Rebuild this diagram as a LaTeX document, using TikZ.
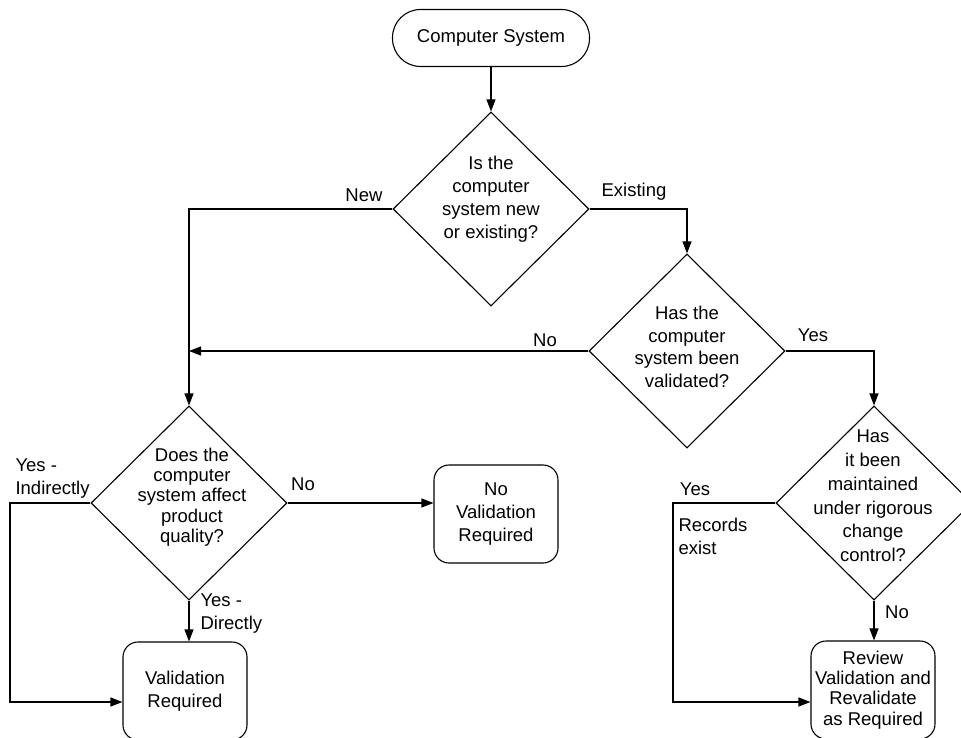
\documentclass[tikz,border=0pt]{standalone}
\usepackage{fontspec}
\setmainfont{Liberation Sans}
\usetikzlibrary{shapes.geometric,arrows.meta,calc}

\begin{document}
\begin{tikzpicture}[x=1pt,y=-1pt,
  line width=1.1pt,
  font=\fontsize{18.5}{23}\selectfont,
  dec/.style={diamond,draw,minimum width=196pt,minimum height=194pt,inner sep=0pt},
  qtext/.style={align=center,inner sep=0pt},
  term/.style={draw,rectangle,rounded corners=28pt,minimum width=197pt,minimum height=57pt},
  outbox/.style={draw,rectangle,rounded corners=15pt,align=center,minimum width=124pt,minimum height=98pt,inner sep=2pt},
  arr/.style={-{Triangle[length=12pt,width=9pt]}},
  lbl/.style={inner sep=0pt,align=left}
]
\useasboundingbox (0,0) rectangle (961,738);
\clip (0,0) rectangle (961,738);

% start
\node[term] (start) at (491,38) {Computer System};

% decisions
\node[dec] (d1) at (491,209) {};
\node[qtext] (t1) at (491,199) {Is the\\computer\\system new\\or existing?};

\node[dec] (d2) at (687,351) {};
\node[qtext,font=\fontsize{18.5}{22.7}\selectfont] (t2) at (687,347) {Has the\\computer\\system been\\validated?};

\node[dec] (d3) at (189,503) {};
\node[qtext,font=\fontsize{18.5}{20.3}\selectfont] (t3) at (192,497) {Does the\\computer\\system affect\\product\\quality?};

\node[dec] (d4) at (874,503) {};
\node[qtext,font=\fontsize{18.5}{23.8}\selectfont] (t4) at (873,496) {Has\\it been\\maintained\\under rigorous\\change\\control?};

% outcomes
\node[outbox] (nv) at (496,514) {No\\Validation\\Required};
\node[outbox] (vr) at (185,691) {Validation\\Required};
\node[outbox,font=\fontsize{18.5}{20.4}\selectfont] (rv) at (873,690) {Review\\Validation and\\Revalidate\\as Required};

% helper points for the side branches
\coordinate (c1) at (10,503);
\coordinate (c2) at (673,503);
\coordinate (vrin) at ($(vr.west)+(0,11)$);
\coordinate (rvin) at ($(rv.west)+(0,12)$);

% connectors
\draw[arr] (start.south) -- (d1.north);
\draw[arr] (d1.west) -| (d3.north);
\draw[arr] (d1.east) -| (d2.north);
\draw[arr] (d2.west) -- (d2.west -| d3.north);
\draw[arr] (d2.east) -| (d4.north);
\draw[arr] (d3.east) -- (d3.east -| nv.west);
\draw[arr] (d3.south) -- (d3.south |- vr.north);
\draw[arr] (d3.west) -- (c1) |- (vrin);
\draw[arr] (d4.west) -- (c2) |- (rvin);
\draw[arr] (d4.south) -- (d4.south |- rv.north);

% branch labels
\node[lbl] (lnew) at (364,195) {New};
\node[lbl] (lex) at (634,192) {Existing};
\node[lbl] (lno2) at (545,340) {No};
\node[lbl] (lyes2) at (813,335) {Yes};
\node[lbl,anchor=west] (lyi) at (15,479) {Yes -\\Indirectly};
\node[lbl] (lno3) at (303,484) {No};
\node[lbl,anchor=west] (lyd) at (200,614) {Yes -\\Directly};
\node[lbl] (lyes4) at (695,489) {Yes};
\node[lbl,anchor=west] (lrec) at (678,536) {Records\\exist};
\node[lbl] (lno4) at (897,612) {No};
\end{tikzpicture}
\end{document}
